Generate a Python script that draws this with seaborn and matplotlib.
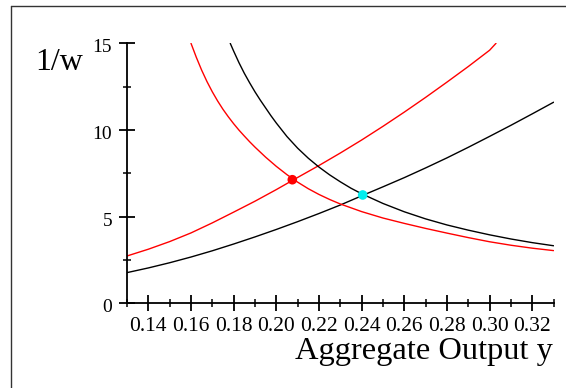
import seaborn as sns
import matplotlib.pyplot as plt
import pandas as pd
from matplotlib.lines import Line2D
from matplotlib.ticker import FixedLocator, FormatStrFormatter
from matplotlib.transforms import ScaledTranslation

# curves (x = aggregate output y, value = 1/w)
red_up_x = [0.13, 0.14, 0.15, 0.16, 0.17, 0.18, 0.19, 0.20, 0.21, 0.22,
            0.23, 0.24, 0.25, 0.26, 0.27, 0.28, 0.29, 0.30, 0.303]
red_up_y = [2.73, 3.12, 3.56, 4.06, 4.64, 5.26, 5.89, 6.56, 7.26, 7.95,
            8.67, 9.42, 10.21, 11.03, 11.88, 12.76, 13.66, 14.60, 15.0]

black_up_x = [0.13, 0.14, 0.15, 0.16, 0.17, 0.18, 0.19, 0.20, 0.21, 0.22, 0.23,
              0.24, 0.25, 0.26, 0.27, 0.28, 0.29, 0.30, 0.31, 0.32, 0.33]
black_up_y = [1.77, 2.04, 2.34, 2.67, 3.03, 3.42, 3.83, 4.26, 4.71, 5.18, 5.67,
              6.20, 6.72, 7.25, 7.81, 8.39, 9.00, 9.63, 10.27, 10.93, 11.60]

red_down_x = [0.160, 0.1625, 0.165, 0.1675, 0.170, 0.1725, 0.175, 0.1775,
              0.180, 0.1825, 0.185, 0.1875, 0.190, 0.195, 0.200, 0.205,
              0.210, 0.215, 0.220, 0.225, 0.230, 0.24, 0.25, 0.26, 0.27,
              0.28, 0.29, 0.30, 0.31, 0.32, 0.33]
red_down_y = [15.0, 14.19, 13.45, 12.79, 12.20, 11.67, 11.19, 10.76,
              10.36, 9.99, 9.65, 9.32, 9.01, 8.43, 7.90, 7.42,
              6.99, 6.61, 6.28, 5.99, 5.73, 5.29, 4.92, 4.61, 4.32,
              4.05, 3.79, 3.55, 3.35, 3.18, 3.04]

black_down_x = [0.1784, 0.180, 0.1825, 0.185, 0.1875, 0.190, 0.1925, 0.195,
                0.1975, 0.200, 0.205, 0.210, 0.215, 0.220, 0.225, 0.230,
                0.235, 0.24, 0.25, 0.26, 0.27, 0.28, 0.29, 0.30, 0.31, 0.32,
                0.33]
black_down_y = [15.0, 14.55, 13.88, 13.27, 12.72, 12.20, 11.72, 11.27,
                10.82, 10.40, 9.62, 8.95, 8.37, 7.86, 7.41, 7.01,
                6.64, 6.32, 5.76, 5.28, 4.87, 4.52, 4.22, 3.95, 3.71, 3.50,
                3.32]

eq_x = [0.2075, 0.2405]
eq_y = [7.13, 6.25]
eq_colors = ['#ff0000', '#00eeee']

x_major = [0.14, 0.16, 0.18, 0.20, 0.22, 0.24, 0.26, 0.28, 0.30, 0.32]
x_minor = [0.13, 0.15, 0.17, 0.19, 0.21, 0.23, 0.25, 0.27, 0.29, 0.31, 0.33]
y_major = [0, 5, 10, 15]
y_minor = [2.5, 7.5, 12.5]

sns.set_theme(style='white')
plt.rcParams['font.family'] = ['Liberation Serif', 'DejaVu Serif']

fig = plt.figure(figsize=(5.66, 3.88), dpi=100)
ax = fig.add_axes([127 / 566, 1 - 303.3 / 388, 426.6 / 566, 260 / 388])

curves = [
    (red_up_x, red_up_y, '#ff0000'),
    (black_up_x, black_up_y, 'black'),
    (red_down_x, red_down_y, '#ff0000'),
    (black_down_x, black_down_y, 'black'),
]
for xs, ys, c in curves:
    df = pd.DataFrame({'y': xs, 'w': ys})
    sns.lineplot(data=df, x='y', y='w', color=c, linewidth=1.0,
                 estimator=None, ax=ax)

for xv, yv, c in zip(eq_x, eq_y, eq_colors):
    sns.scatterplot(x=[xv], y=[yv], color=c, s=48, edgecolor='none',
                    zorder=5, ax=ax)

ax.set_xlim(0.13, 0.33)
ax.set_ylim(0, 15)
ax.set_xlabel('')
ax.set_ylabel('')

for side in ['top', 'right']:
    ax.spines[side].set_visible(False)
for side in ['left', 'bottom']:
    ax.spines[side].set_color('black')
    ax.spines[side].set_linewidth(1.3)

ax.xaxis.set_major_locator(FixedLocator(x_major))
ax.xaxis.set_minor_locator(FixedLocator(x_minor))
ax.yaxis.set_major_locator(FixedLocator(y_major))
ax.yaxis.set_minor_locator(FixedLocator(y_minor))
ax.xaxis.set_major_formatter(FormatStrFormatter('%.2f'))
ax.yaxis.set_major_formatter(FormatStrFormatter('%d'))

ax.tick_params(which='major', direction='inout', length=11.5, width=1.3,
               color='black', labelcolor='black', bottom=True, left=True)
ax.tick_params(which='minor', direction='inout', length=5.8, width=1.1,
               color='black', bottom=True, left=True)
ax.tick_params(axis='x', which='major', labelsize=15.5, pad=4)
ax.tick_params(axis='y', which='major', labelsize=14, pad=5)

# y tick labels sit a little below their ticks in the reference
shift = ScaledTranslation(0, -2.5 / 100, fig.dpi_scale_trans)
for lbl in ax.get_yticklabels():
    lbl.set_transform(lbl.get_transform() + shift)

fig.text(553 / 566, 1 - 351 / 388, 'Aggregate Output y', fontsize=23.3,
         ha='right', va='center', color='black')
fig.text(35 / 566, 1 - 62 / 388, '1/w', fontsize=23,
         ha='left', va='center', color='black')

# outer frame (only the left and top edges show in the image)
fig.add_artist(Line2D([10.5 / 566, 10.5 / 566], [0, 1 - 5.5 / 388],
                      transform=fig.transFigure, color='#333333', lw=1))
fig.add_artist(Line2D([10.5 / 566, 1], [1 - 5.5 / 388, 1 - 5.5 / 388],
                      transform=fig.transFigure, color='#333333', lw=1))

fig.savefig('out.png', dpi=100)
plt.close(fig)
